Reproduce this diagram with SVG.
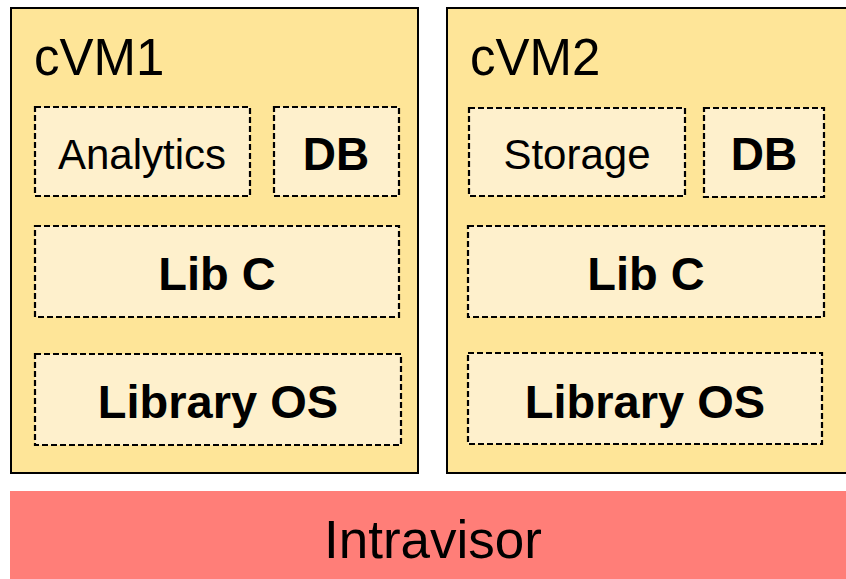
<svg xmlns="http://www.w3.org/2000/svg" width="846" height="579" viewBox="0 0 846 579">
  <style>
    .vm { fill: #FEE598; stroke: #000; stroke-width: 2; }
    .comp { fill: #FEF0CC; stroke: #000; stroke-width: 2.2; stroke-dasharray: 6 3; }
    .t { font-family: "Liberation Sans", Arial, sans-serif; fill: #000; }
    .title { font-size: 51px; }
    .reg { font-size: 42px; text-anchor: middle; }
    .bold { font-size: 47px; font-weight: bold; text-anchor: middle; }
    .db { font-size: 46px; font-weight: bold; text-anchor: middle; }
    .hv { fill: #FF7E78; }
  </style>
  <rect width="846" height="579" fill="#fff"/>

  <!-- compartment VM 1 -->
  <g id="cvm1">
    <rect class="vm" x="11" y="8" width="407" height="465"/>
    <text class="t title" x="34" y="75">cVM1</text>
  </g>
  <g id="cvm1-analytics">
    <rect class="comp" x="35" y="107" width="215" height="89"/>
    <text class="t reg" x="142" y="169">Analytics</text>
  </g>
  <g id="cvm1-db">
    <rect class="comp" x="274" y="107" width="125" height="89"/>
    <text class="t db" x="336" y="170">DB</text>
  </g>
  <g id="cvm1-libc">
    <rect class="comp" x="35" y="226" width="364" height="91"/>
    <text class="t bold" x="217" y="290">Lib C</text>
  </g>
  <g id="cvm1-libos">
    <rect class="comp" x="35" y="354" width="366" height="91"/>
    <text class="t bold" x="218" y="418">Library OS</text>
  </g>

  <!-- compartment VM 2 -->
  <g id="cvm2">
    <rect class="vm" x="447" y="8" width="410" height="465"/>
    <text class="t title" x="470" y="75">cVM2</text>
  </g>
  <g id="cvm2-storage">
    <rect class="comp" x="469" y="108" width="216" height="88"/>
    <text class="t reg" x="577" y="169">Storage</text>
  </g>
  <g id="cvm2-db">
    <rect class="comp" x="704" y="108" width="120" height="89"/>
    <text class="t db" x="764" y="170">DB</text>
  </g>
  <g id="cvm2-libc">
    <rect class="comp" x="468" y="226" width="356" height="91"/>
    <text class="t bold" x="646" y="290">Lib C</text>
  </g>
  <g id="cvm2-libos">
    <rect class="comp" x="468" y="353" width="354" height="91"/>
    <text class="t bold" x="645" y="418">Library OS</text>
  </g>

  <!-- hypervisor layer -->
  <g id="intravisor">
    <rect class="hv" x="10" y="491" width="836" height="88"/>
    <text class="t" x="433" y="558" font-size="53" text-anchor="middle">Intravisor</text>
  </g>

  <g id="connectors"></g>
</svg>
